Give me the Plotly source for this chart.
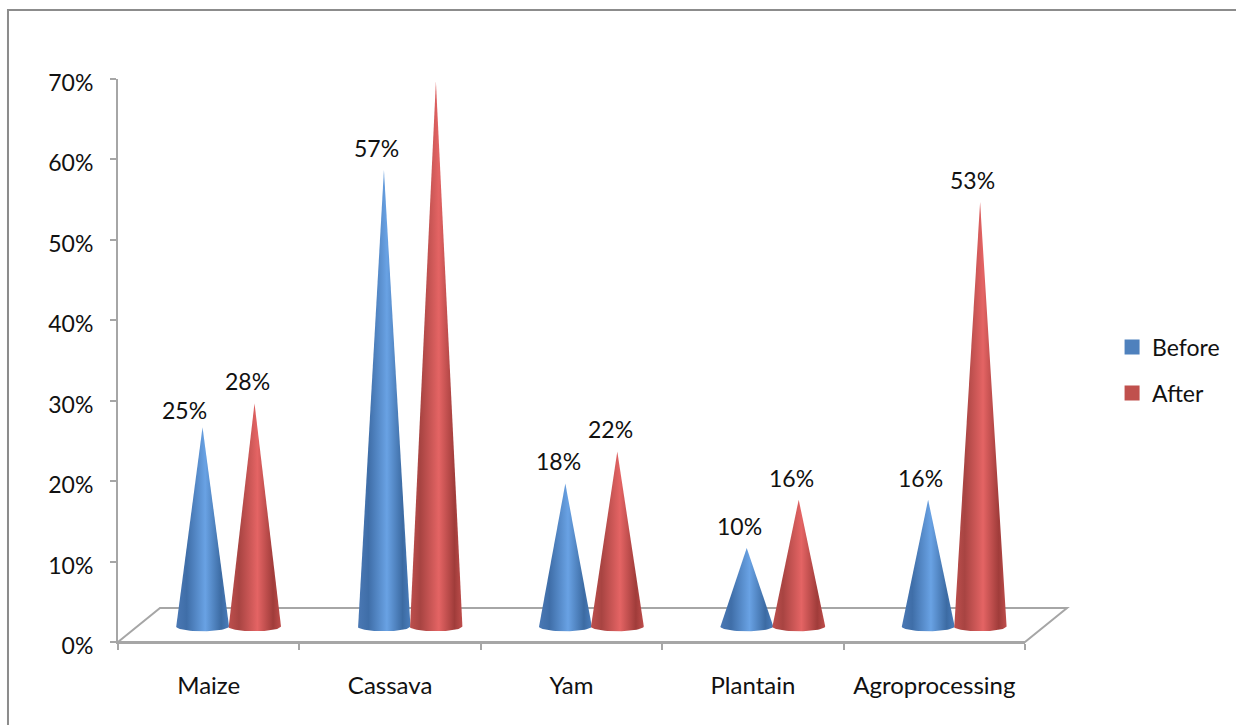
import numpy as np
import plotly.graph_objects as go

categories = ["Maize", "Cassava", "Yam", "Plantain", "Agroprocessing"]
before = [25, 57, 18, 10, 16]
after = [28, 68, 22, 16, 53]
y_ticks = [0, 10, 20, 30, 40, 50, 60, 70]

FONT = "Lato, Carlito, sans-serif"
FONT_SIZE = 23
TEXT_COLOR = "#111111"
AXIS_COLOR = "#a6a6a6"
BLUE_STOPS = [[0, "#4a78b4"], [0.2, "#3f6ea8"], [0.55, "#69a2e4"], [0.85, "#3c6ba3"], [1, "#4a7dbb"]]
RED_STOPS = [[0, "#bd4f4d"], [0.2, "#a84442"], [0.55, "#e46464"], [0.85, "#a03c3a"], [1, "#bf4e4c"]]

HALF = 0.146          # cone half width, category units
DEPTH = 1.7           # tip lift in value units (3D depth)
BASE_Y = 1.95         # ellipse centre above floor front
BASE_RY = 0.62        # ellipse half height
OFF_BEFORE, OFF_AFTER = -0.034, 0.2525
LABEL_DX, LABEL_DY = -0.04, 2.75
# hand-moved labels in the original: (series, category index) -> (dx, dy)
LABEL_NUDGE = {("before", 0): (-0.06, -0.55), ("after", 1): (0, 0.35)}


def cone(cx, value, stops, name):
    t = np.linspace(np.pi, 2 * np.pi, 30)
    xs = np.concatenate([[cx], cx + HALF * np.cos(t), [cx]])
    ys = np.concatenate([[value + DEPTH], BASE_Y + BASE_RY * np.sin(t), [value + DEPTH]])
    return go.Scatter(
        x=xs, y=ys, mode="lines", line=dict(width=0), fill="toself",
        fillgradient=dict(type="horizontal", colorscale=stops),
        showlegend=False, hoverinfo="skip", name=name, cliponaxis=False,
    )


fig = go.Figure()
xpos = np.arange(1, len(categories) + 1)
annotations = []
for i, c in enumerate(categories):
    fig.add_trace(cone(xpos[i] + OFF_BEFORE, before[i], BLUE_STOPS, f"Before {c}"))
    fig.add_trace(cone(xpos[i] + OFF_AFTER, after[i], RED_STOPS, f"After {c}"))
    for key, off, v in (("before", OFF_BEFORE, before[i]), ("after", OFF_AFTER, after[i])):
        nx, ny = LABEL_NUDGE.get((key, i), (0, 0))
        annotations.append(dict(
            x=xpos[i] + off + LABEL_DX + nx, y=v + DEPTH + LABEL_DY + ny, xref="x", yref="y",
            text=f"{v}%", showarrow=False, xanchor="center", yanchor="middle",
            font=dict(family=FONT, size=FONT_SIZE, color=TEXT_COLOR)))

fig.add_trace(go.Scatter(x=[None], y=[None], mode="markers", name="Before", legendgroup="b",
                         marker=dict(symbol="square", size=15, color="#4f81bd")))
fig.add_trace(go.Scatter(x=[None], y=[None], mode="markers", name="After", legendgroup="a",
                         marker=dict(symbol="square", size=15, color="#c0504d")))

n = len(categories)
lo, hi = 0.5, n + 0.5
# floor parallelogram in paper fractions of the plot area
dx, dy = 42 / 907, 34 / 563
floor = f"M 0,0 L {dx},{dy} L {1+dx},{dy} L 1,0 Z"

fig.update_layout(
    width=1236, height=725, margin=dict(l=118, r=211, t=79, b=83, autoexpand=False),
    paper_bgcolor="white", plot_bgcolor="rgba(0,0,0,0)",
    font=dict(family=FONT, size=FONT_SIZE, color=TEXT_COLOR),
    annotations=annotations,
    xaxis=dict(range=[lo, hi], tickmode="array", tickvals=list(xpos), ticktext=categories,
               tickfont=dict(family=FONT, size=24, color=TEXT_COLOR),
               ticks="", ticklabelstandoff=21, showgrid=False, zeroline=False,
               showline=True, linecolor=AXIS_COLOR, linewidth=2,
               minor=dict(tickmode="array", tickvals=list(np.arange(lo, hi + 0.5)),
                          ticks="outside", ticklen=6, tickcolor=AXIS_COLOR, tickwidth=2, showgrid=False)),
    yaxis=dict(range=[0, 70], tickmode="array", tickvals=y_ticks,
               ticktext=[f"{v}%" for v in y_ticks], ticklabelstandoff=12, ticklabelshift=4,
               ticks="outside", ticklen=6, tickcolor=AXIS_COLOR, tickwidth=2, showgrid=False,
               zeroline=False, showline=True, linecolor=AXIS_COLOR, linewidth=2),
    legend=dict(x=1.096, y=0.483, xanchor="left", yanchor="middle", tracegroupgap=13,
                font=dict(family=FONT, size=FONT_SIZE, color=TEXT_COLOR), bgcolor="rgba(0,0,0,0)"),
    shapes=[
        dict(type="path", path=floor, xref="paper", yref="paper", line=dict(color=AXIS_COLOR, width=2),
             fillcolor="white", layer="below"),
        dict(type="rect", xref="paper", yref="paper", x0=-0.1213, x1=1.5, y0=-0.5, y1=1.1225,
             line=dict(color="#8c8c8c", width=2), fillcolor="rgba(0,0,0,0)", layer="below"),
    ],
)
fig.write_html("out.html", config={"displayModeBar": False}, post_script="document.body.style.margin='0';")
